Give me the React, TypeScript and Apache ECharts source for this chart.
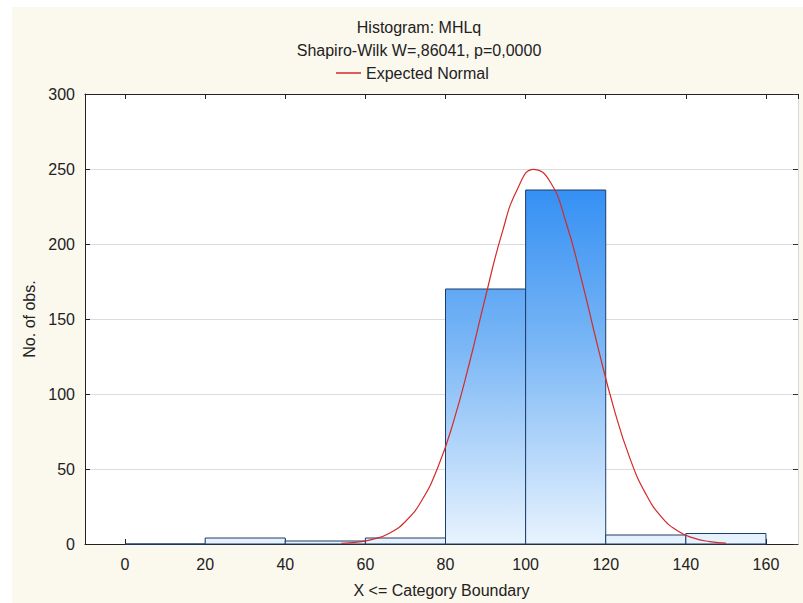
import React, { useEffect, useRef } from 'react';
import * as echarts from 'echarts';

// Histogram bins (upper boundary categories)
const binStarts = [0, 20, 40, 60, 80, 100, 120, 140];
const binEnds = [20, 40, 60, 80, 100, 120, 140, 160];
const binCounts = [0, 4, 2, 4, 170, 236, 6, 7];

// Expected normal curve
const curveX = [54, 58, 62, 66, 70, 74, 78, 82, 86, 90, 94, 98, 102, 106, 110, 114, 118, 122, 126, 130, 134, 138, 142, 146, 150];
const curveY = [0.5, 1.3, 3.2, 7.2, 15.0, 28.7, 50.5, 81.6, 121.0, 164.9, 206.2, 236.9, 249.8, 242.0, 215.2, 175.8, 131.8, 90.8, 57.4, 33.4, 17.8, 8.7, 3.9, 1.6, 0.6];

const titleText = 'Histogram: MHLq';
const subtitleText = 'Shapiro-Wilk W=,86041, p=0,0000';
const legendName = 'Expected Normal';
const xName = 'X <= Category Boundary';
const yName = 'No. of obs.';

const FONT = '"Liberation Sans", Arial, sans-serif';

export default function App() {
  const ref = useRef<HTMLDivElement>(null);

  useEffect(() => {
    document.body.style.margin = '0';
    if (!ref.current) return;
    const chart = echarts.init(ref.current, null, { renderer: 'svg' });

    const barData = binStarts.map((s, i) => [s, binEnds[i], binCounts[i]]);
    const lineData = curveX.map((x, i) => [x, curveY[i]]);

    const option: any = {
      animation: false,
      backgroundColor: '#fbf8ee',
      textStyle: { fontFamily: FONT },
      graphic: [
        { type: 'rect', shape: { x: 0, y: 0, width: 12, height: 603 }, style: { fill: '#ffffff' }, silent: true },
        { type: 'rect', shape: { x: 0, y: 0, width: 803, height: 7 }, style: { fill: '#ffffff' }, silent: true },
      ],
      title: [
        {
          text: titleText,
          left: 414,
          top: 14,
          textAlign: 'center',
          textStyle: { fontSize: 16, fontWeight: 'normal', color: '#222', fontFamily: FONT },
        },
        {
          text: subtitleText,
          left: 414,
          top: 37,
          textAlign: 'center',
          textStyle: { fontSize: 16, fontWeight: 'normal', color: '#222', fontFamily: FONT },
        },
      ],
      legend: {
        data: [{ name: legendName, icon: 'rect' }],
        left: 331,
        top: 60,
        itemWidth: 25,
        itemHeight: 1.5,
        itemGap: 6,
        itemStyle: { color: '#d42a2a', borderWidth: 0 },
        textStyle: { fontSize: 16, color: '#222', fontFamily: FONT, padding: [0, 0, 0, 0] },
      },
      grid: {
        left: 85,
        right: 5,
        top: 94,
        bottom: 59,
        show: true,
        backgroundColor: '#ffffff',
        borderWidth: 0,
      },
      xAxis: [
        {
          type: 'value',
          position: 'bottom',
          min: -10,
          max: 168,
          splitNumber: 9,
          axisLine: { show: true, onZero: false, lineStyle: { color: '#222', width: 1 } },
          axisTick: { show: true, inside: true, length: 5, lineStyle: { color: '#222' } },
          axisLabel: {
            fontSize: 16,
            color: '#222',
            margin: 12,
            showMinLabel: false,
            showMaxLabel: false,
            formatter: (v: number) => (v % 20 === 0 ? String(v) : ''),
          },
          splitLine: { show: false },
          name: xName,
          nameLocation: 'middle',
          nameGap: 38,
          nameTextStyle: { fontSize: 16, color: '#222', fontFamily: FONT },
        },
        {
          type: 'value',
          position: 'top',
          min: -10,
          max: 168,
          splitNumber: 9,
          axisLine: { show: true, onZero: false, lineStyle: { color: '#222', width: 1 } },
          axisTick: { show: true, inside: true, length: 5, lineStyle: { color: '#222' } },
          axisLabel: { show: false },
          splitLine: { show: false },
        },
      ],
      yAxis: [
        {
          type: 'value',
          position: 'left',
          min: 0,
          max: 300,
          interval: 50,
          axisLine: { show: true, onZero: false, lineStyle: { color: '#222', width: 1 } },
          axisTick: { show: true, inside: true, length: 5, lineStyle: { color: '#222' } },
          axisLabel: { fontSize: 16, color: '#222', margin: 10 },
          splitLine: { show: true, lineStyle: { color: '#dcdcdc', width: 1 } },
          name: yName,
          nameLocation: 'middle',
          nameGap: 48,
          nameRotate: 90,
          nameTextStyle: { fontSize: 16, color: '#222', fontFamily: FONT },
        },
        {
          type: 'value',
          position: 'right',
          min: 0,
          max: 300,
          interval: 50,
          axisLine: { show: true, onZero: false, lineStyle: { color: '#d8d8d8', width: 1 } },
          axisTick: { show: true, inside: true, length: 5, lineStyle: { color: '#333' } },
          axisLabel: { show: false },
          splitLine: { show: false },
        },
      ],
      series: [
        {
          type: 'custom',
          name: 'Histogram',
          xAxisIndex: 0,
          yAxisIndex: 0,
          encode: { x: [0, 1], y: 2 },
          data: barData,
          renderItem: (params: any, api: any) => {
            const s = api.value(0);
            const e = api.value(1);
            const c = api.value(2);
            const p0 = api.coord([s, c]);
            const p1 = api.coord([e, 0]);
            const gTop = api.coord([0, 250])[1];
            const gBot = api.coord([0, 0])[1];
            return {
              type: 'rect',
              shape: { x: p0[0], y: p0[1], width: p1[0] - p0[0], height: p1[1] - p0[1] },
              style: {
                fill: new echarts.graphic.LinearGradient(0, gTop, 0, gBot, [
                  { offset: 0, color: '#2c8bf3' },
                  { offset: 0.45, color: '#76b4f5' },
                  { offset: 1, color: '#e8f3fe' },
                ], true),
                stroke: '#1d3d6b',
                lineWidth: 1,
              },
            };
          },
          z: 2,
        },
        {
          type: 'line',
          name: legendName,
          xAxisIndex: 0,
          yAxisIndex: 0,
          data: lineData,
          smooth: true,
          symbol: 'none',
          lineStyle: { color: '#d42a2a', width: 1.2 },
          itemStyle: { color: '#d42a2a' },
          z: 3,
        },
      ],
    };

    chart.setOption(option);
    return () => {
      chart.dispose();
    };
  }, []);

  return (
    <div
      ref={ref}
      style={{ position: 'fixed', left: 0, top: 0, width: 803, height: 603 }}
    />
  );
}
